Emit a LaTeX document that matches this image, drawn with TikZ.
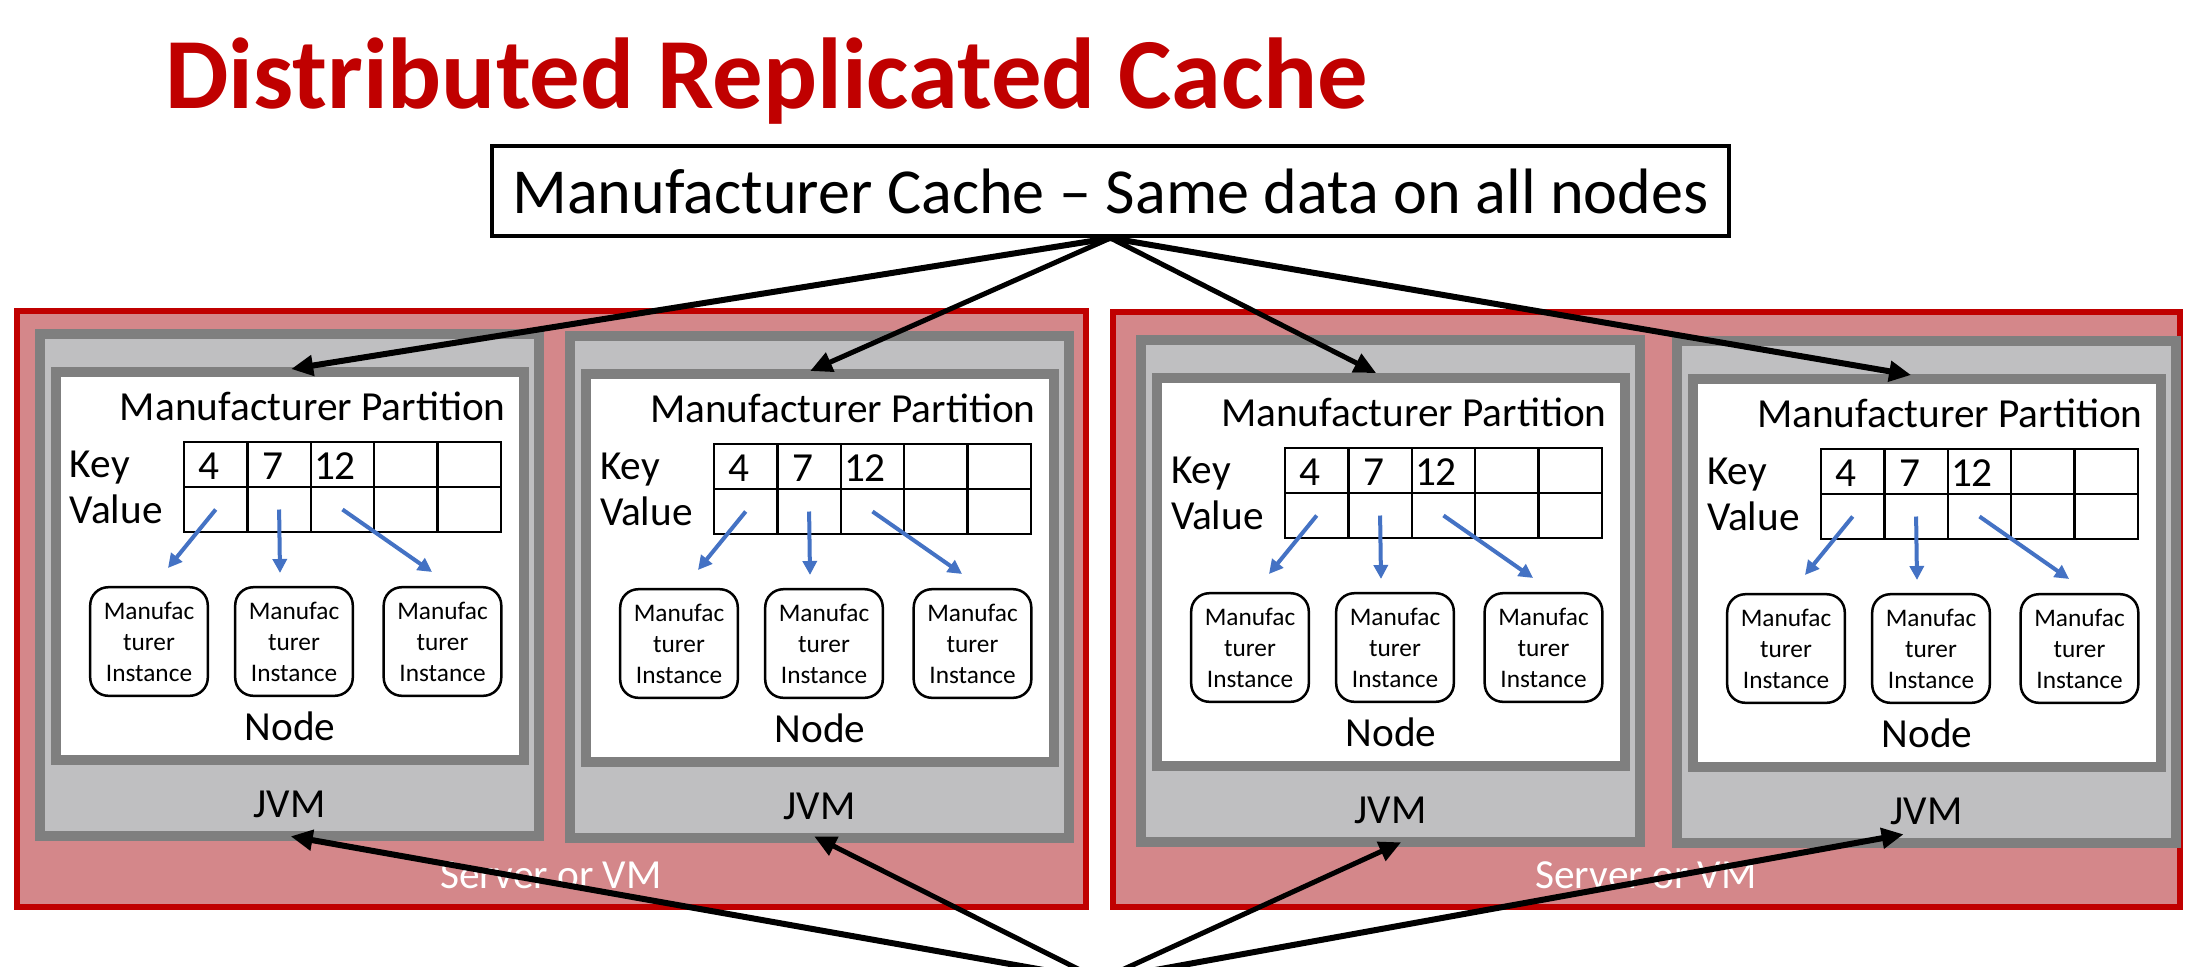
\documentclass[tikz,border=0pt]{standalone}
\usepackage{fontspec}
\setmainfont{Carlito}
\usetikzlibrary{arrows.meta,calc}
\definecolor{titlered}{HTML}{C00000}
\definecolor{srvfill}{HTML}{D4878A}
\definecolor{srvline}{HTML}{C00000}
\definecolor{jvmfill}{HTML}{BFBFC1}
\definecolor{grayline}{HTML}{7F7F7F}
\definecolor{arrblue}{HTML}{4472C4}
\newcommand{\fsmain}{\fontsize{11.75pt}{14pt}\selectfont}
\newcommand{\fsinst}{\fontsize{7.2pt}{8.8pt}\selectfont}
\newcommand{\fscache}{\fontsize{18.25pt}{21pt}\selectfont}
\newcommand{\fstitle}{\fontsize{28.65pt}{34pt}\selectfont\bfseries}
\tikzset{
  lbl/.style={inner sep=0pt, outer sep=0pt},
  serverbox/.style={draw=srvline, fill=srvfill, line width=0.06cm, inner sep=0pt, anchor=north west},
  jvmbox/.style={draw=grayline, fill=jvmfill, line width=0.1cm, inner sep=0pt, anchor=north west,
    minimum width=4.99cm, minimum height=5.02cm},
  nodebox/.style={draw=grayline, fill=white, line width=0.1cm, inner sep=0pt, anchor=north west,
    minimum width=4.68cm, minimum height=3.88cm},
  cachebox/.style={draw=black, fill=white, line width=0.04cm, inner sep=0pt,
    minimum width=12.37cm, minimum height=0.9cm, font=\fscache},
  cell/.style={draw=black, line width=0.025cm, inner sep=0pt, outer sep=0pt,
    minimum width=0.634cm, minimum height=0.45cm},
  inst/.style={draw=black, fill=white, line width=0.025cm, rounded corners=0.18cm, inner sep=0pt,
    minimum width=1.175cm, minimum height=1.085cm, align=center, font=\fsinst},
  karrow/.style={draw=black, line width=0.05cm, -{Triangle[length=0.22cm,width=0.2cm]}},
  karrowthick/.style={karrow, line width=0.06cm},
  barrow/.style={draw=arrblue, line width=0.04cm, -{Triangle[length=0.14cm,width=0.14cm]}},
}
\begin{document}
\begin{tikzpicture}[x=0.01cm, y=-0.01cm]
\useasboundingbox (0,0) rectangle (2196,966);
\clip (0,0) rectangle (2196,966);

% title
\node[lbl, anchor=base west, text=titlered, font=\fstitle] (title) at (165,108) {Distributed Replicated Cache};

% cache box
\node[cachebox] (cache) at (1110.5,191) {Manufacturer Cache – Same data on all nodes};

% servers
\node[serverbox, minimum width=10.68cm, minimum height=5.96cm] (s1) at (14,308) {};
\node[serverbox, minimum width=10.66cm, minimum height=5.95cm] (s2) at (1110,309) {};
\node[lbl, anchor=base, text=white, font=\fsmain] (s1lbl) at (551,888) {Server or VM};
\node[lbl, anchor=base, text=white, font=\fsmain] (s2lbl) at (1646,888) {Server or VM};

% JVMs and nodes
\foreach \i/\jx/\jy in {1/35/329, 2/565/331, 3/1136/335, 4/1672/336} {
  \begin{scope}[shift={(\jx,\jy)}]
    \node[jvmbox] (j\i) at (0,0) {};
    \node[lbl, anchor=base, font=\fsmain] (jl\i) at (254.5,488) {JVM};
    \begin{scope}[shift={(16,38)}]
      \node[nodebox] (n\i) at (0,0) {};
      \node[lbl, anchor=base west, font=\fsmain] (pl\i) at (69,53) {Manufacturer Partition};
      \node[lbl, anchor=base west, font=\fsmain] (kl\i) at (19,110) {Key};
      \node[lbl, anchor=base west, font=\fsmain] (vl\i) at (19,156) {Value};
      \foreach \c in {1,...,5} {
        \node[cell] (k\i-\c) at ({133+63.4*(\c-0.5)},97.5) {};
        \node[cell] (v\i-\c) at ({133+63.4*(\c-0.5)},142.5) {};
      }
      \node[lbl, anchor=base west, font=\fsmain] (na\i) at (147,112) {4};
      \node[lbl, anchor=base west, font=\fsmain] (nb\i) at (211,112) {7};
      \node[lbl, anchor=base west, font=\fsmain] (nc\i) at (263,112) {12};
      \node[inst] (m\i-1) at (98,274.5) {Manufac\\turer\\Instance};
      \node[inst] (m\i-2) at (243,274.5) {Manufac\\turer\\Instance};
      \node[inst] (m\i-3) at (391.5,274.5) {Manufac\\turer\\Instance};
      \draw[barrow] (v\i-1.center) -- ($(m\i-1.north)+(19,-18)$);
      \draw[barrow] (v\i-2.center) -- ($(m\i-2.north)+(-14,-13)$);
      \draw[barrow] (v\i-3.center) -- ($(m\i-3.north)+(-10.5,-14)$);
      \node[lbl, anchor=base, font=\fsmain] (nl\i) at (239,373) {Node};
    \end{scope}
  \end{scope}
}

% arrows from cache to nodes
\draw[karrowthick] (cache.south) -- ($(n1.north)+(1,2)$);
\draw[karrow] (cache.south) -- ($(n2.north)+(-10,2)$);
\draw[karrow] (cache.south) -- ($(n3.north)+(-15,0)$);
\draw[karrowthick] (cache.south) -- ($(n4.north)+(-16,1)$);

% arrows from below to JVMs
\coordinate (src) at (1100,980);
\draw[karrowthick] (src) -- ($(j1.south)+(1,-5)$);
\draw[karrow] (src) -- ($(j2.south)+(-5.5,-7)$);
\draw[karrow] (src) -- ($(j3.south)+(10.5,-5)$);
\draw[karrowthick] (src) -- ($(j4.south)+(-23,-14)$);
\end{tikzpicture}
\end{document}
